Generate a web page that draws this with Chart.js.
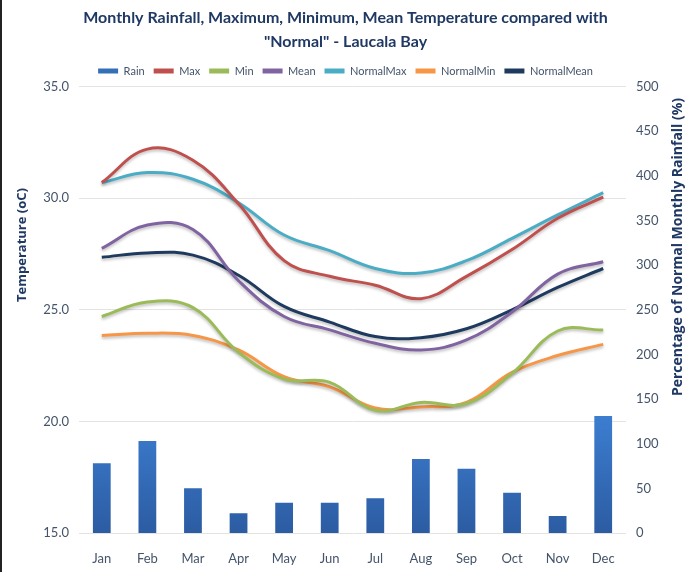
<!DOCTYPE html>
<html>
<head>
<meta charset="utf-8">
<script src="https://cdn.jsdelivr.net/npm/chart.js@4/dist/chart.umd.min.js"></script>
<style>
  html, body { margin: 0; padding: 0; background: #fff; }
  #wrap { position: relative; width: 689px; height: 572px; box-sizing: border-box; border-left: 2px solid #222; }
</style>
</head>
<body>
<div id="wrap"><canvas id="chart"></canvas></div>
<script>
// data
const months = ['Jan', 'Feb', 'Mar', 'Apr', 'May', 'Jun', 'Jul', 'Aug', 'Sep', 'Oct', 'Nov', 'Dec'];
const rain = [78, 103, 50, 22, 34, 34, 39, 83, 72, 45, 19, 131];
const maxTemp = [30.7, 32.2, 31.7, 29.75, 27.2, 26.5, 26.1, 25.5, 26.5, 27.7, 29.1, 30.05];
const minTemp = [24.7, 25.35, 25.1, 23.1, 21.9, 21.75, 20.5, 20.85, 20.8, 22.15, 24.05, 24.1];
const meanTemp = [27.75, 28.8, 28.6, 26.3, 24.7, 24.1, 23.5, 23.2, 23.65, 24.9, 26.6, 27.15];
const normalMax = [30.7, 31.15, 30.85, 29.8, 28.35, 27.65, 26.85, 26.65, 27.2, 28.2, 29.25, 30.25];
const normalMin = [23.85, 23.95, 23.85, 23.2, 22.0, 21.55, 20.6, 20.65, 20.85, 22.2, 22.95, 23.45];
const normalMean = [27.35, 27.55, 27.45, 26.55, 25.15, 24.45, 23.8, 23.75, 24.15, 25.0, 26.0, 26.85];
const tempTicks = [15, 20, 25, 30, 35];
const rainTicks = [0, 50, 100, 150, 200, 250, 300, 350, 400, 450, 500];

const font = "Lato, 'Open Sans', sans-serif";
const labelColor = '#44546a';
const titleColor = '#1f3864';

// bar fill: lighter at top, darker at the base
function barGradient(ctx) {
    const area = ctx.chart.chartArea;
    if (!area) return '#3470b8';
    const g = ctx.chart.ctx.createLinearGradient(0, area.top + 330, 0, area.bottom);
    g.addColorStop(0, '#3c7dd0');
    g.addColorStop(1, '#2c5ca2');
    return g;
}

// soft shadow under the lines
const lineShadow = {
    id: 'lineShadow',
    beforeDatasetDraw(chart, args) {
        if (args.meta.type !== 'line') return;
        const c = chart.ctx;
        c.save();
        c.shadowColor = 'rgba(0,0,0,0.25)';
        c.shadowBlur = 3;
        c.shadowOffsetY = 2;
    },
    afterDatasetDraw(chart, args) {
        if (args.meta.type !== 'line') return;
        chart.ctx.restore();
    }
};

// rotated axis titles, placed like the original (not centred on the plot)
const axisTitles = {
    id: 'axisTitles',
    afterDraw(chart) {
        const c = chart.ctx;
        c.save();
        c.fillStyle = titleColor;
        c.textAlign = 'center';
        c.textBaseline = 'middle';
        c.font = "bold 13px 'Open Sans', sans-serif";
        c.translate(20, 245);
        c.rotate(-Math.PI / 2);
        c.fillText('Temperature (oC)', 0, 0);
        c.restore();
        c.save();
        c.fillStyle = titleColor;
        c.textAlign = 'center';
        c.textBaseline = 'middle';
        c.font = "bold 14px 'Open Sans', sans-serif";
        c.translate(676, 247);
        c.rotate(-Math.PI / 2);
        c.fillText('Percentage of Normal Monthly Rainfall (%)', 0, 0);
        c.restore();
    }
};

function lineSet(label, data, color) {
    return {
        type: 'line', label, data, yAxisID: 'yT', order: 1,
        borderColor: color, backgroundColor: color,
        borderWidth: 3, pointRadius: 0, tension: 0.4, fill: false
    };
}

new Chart(document.getElementById('chart'), {
    type: 'bar',
    data: {
        labels: months,
        datasets: [
            {
                type: 'bar', label: 'Rain', data: rain, yAxisID: 'yR', order: 2,
                backgroundColor: barGradient, barPercentage: 0.39, categoryPercentage: 1
            },
            lineSet('Max', maxTemp, '#c0504d'),
            lineSet('Min', minTemp, '#9bbb59'),
            lineSet('Mean', meanTemp, '#8064a2'),
            lineSet('NormalMax', normalMax, '#4bacc6'),
            lineSet('NormalMin', normalMin, '#f79646'),
            lineSet('NormalMean', normalMean, '#1f3a5f')
        ]
    },
    options: {
        responsive: true,
        maintainAspectRatio: false,
        animation: false,
        layout: { padding: { top: 5, left: 0, right: 0, bottom: 0 } },
        plugins: {
            title: {
                display: true,
                text: ['Monthly Rainfall, Maximum, Minimum, Mean Temperature compared with', '"Normal" - Laucala Bay'],
                color: titleColor,
                font: { family: font, size: 16, weight: 'bold', lineHeight: 1.55 },
                padding: { top: 0, bottom: 2 }
            },
            legend: {
                labels: {
                    color: labelColor,
                    font: { family: font, size: 11 },
                    boxWidth: 20, boxHeight: 5,
                    padding: 9,
                    generateLabels(chart) {
                        return chart.data.datasets.map((ds, i) => ({
                            text: ds.label,
                            fillStyle: ds.type === 'bar' ? '#3470b8' : ds.borderColor,
                            strokeStyle: ds.type === 'bar' ? '#3470b8' : ds.borderColor,
                            lineWidth: 0,
                            fontColor: labelColor,
                            datasetIndex: i
                        }));
                    }
                }
            },
            tooltip: { enabled: false }
        },
        scales: {
            x: {
                grid: { display: false },
                border: { display: false },
                ticks: { color: labelColor, font: { family: font, size: 13 }, padding: 10 },
                afterFit(scale) { scale.height = 39; }
            },
            yT: {
                position: 'left',
                min: 15, max: 35,
                afterBuildTicks(scale) { scale.ticks = tempTicks.map(v => ({ value: v })); },
                ticks: {
                    color: labelColor, font: { family: font, size: 13 }, padding: 10,
                    callback: v => Number(v).toFixed(1)
                },
                grid: { color: '#e3e3e3', drawTicks: false },
                border: { display: false },
                afterFit(scale) { scale.width = 77; }
            },
            yR: {
                position: 'right',
                min: 0, max: 500,
                afterBuildTicks(scale) { scale.ticks = rainTicks.map(v => ({ value: v })); },
                ticks: { color: labelColor, font: { family: font, size: 13 }, padding: 10 },
                grid: { display: false, drawTicks: false },
                border: { display: false },
                afterFit(scale) { scale.width = 63; }
            }
        }
    },
    plugins: [lineShadow, axisTitles]
});
</script>
</body>
</html>
